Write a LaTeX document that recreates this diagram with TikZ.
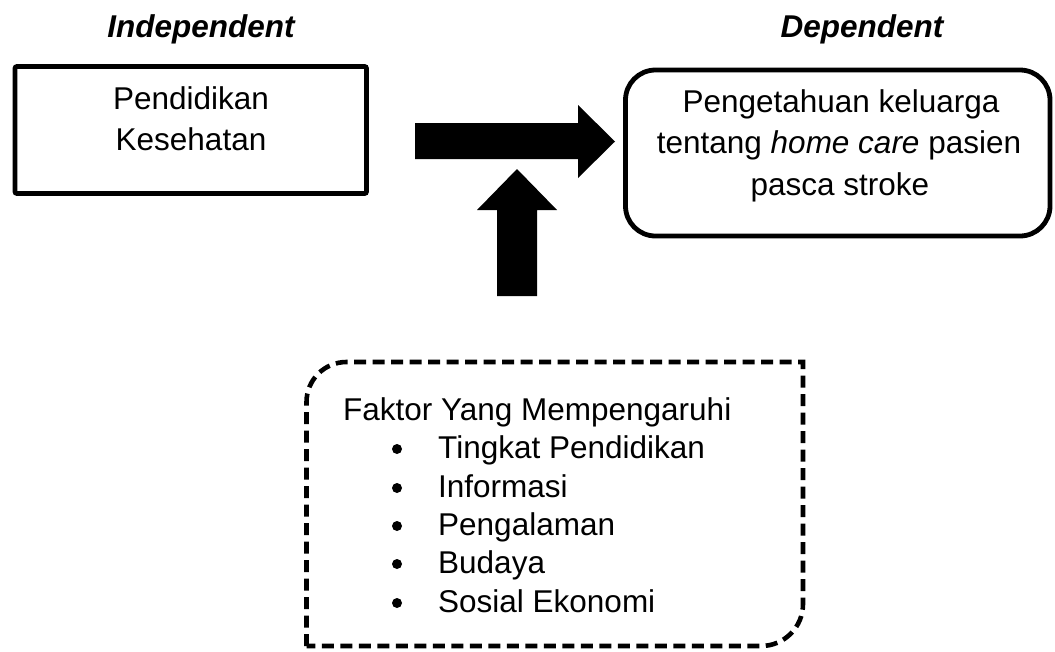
\documentclass[tikz,border=0pt]{standalone}
\usepackage{fontspec}
\setmainfont{Liberation Sans}
\begin{document}
\begin{tikzpicture}[x=1pt,y=-1pt,
  txt/.style={inner sep=0pt,anchor=base,font=\fontsize{31.5}{41}\selectfont},
  ltxt/.style={txt,anchor=base west},
  head/.style={txt,font=\fontsize{31.5}{41}\selectfont\bfseries\itshape},
  solidbox/.style={draw,line width=4.8pt,rounded corners=2pt},
  roundbox/.style={draw,line width=4.8pt,rounded corners=30pt},
  dashbox/.style={draw,line width=4.6pt,dash pattern=on 12pt off 6.5pt},
  bulletdot/.style={circle,fill,inner sep=0pt,minimum size=10pt},
  blockarrow/.style={fill=black}]
\useasboundingbox (0,0) rectangle (1055,651);
% headings
\node[head] (hind) at (201,37) {Independent};
\node[head] (hdep) at (862,37) {Dependent};
% left box
\draw[solidbox] (15,66.5) rectangle (366.5,193.5);
\node[txt] (ind1) at (191,109) {Pendidikan};
\node[txt] (ind2) at (191,150) {Kesehatan};
% right box
\draw[roundbox] (625.5,70) rectangle (1050,236);
\node[txt] (dep1) at (841,112) {Pengetahuan keluarga};
\node[txt] (dep2) at (839,153.5) {tentang \textit{home care} pasien};
\node[txt] (dep3) at (840,195) {pasca stroke};
% right block arrow
\fill[blockarrow] (415,123) -- (578,123) -- (578,105) -- (615,141.5) -- (578,178) -- (578,159) -- (415,159) -- cycle;
% up block arrow
\fill[blockarrow] (497,296) -- (497,210) -- (477,210) -- (517,169) -- (557,210) -- (537,210) -- (537,296) -- cycle;
% dashed box: rounded top-left and bottom-right corners
\draw[dashbox] (306.5,646) -- (306.5,402) arc[start angle=180,end angle=90,radius=40pt] -- (803,362) -- (803,604) arc[start angle=0,end angle=-90,radius=42pt] -- cycle;
\node[ltxt] (fak) at (343,420) {Faktor Yang Mempengaruhi};
\foreach \y/\t [count=\i] in {458/Tingkat Pendidikan,497/Informasi,535/Pengalaman,573/Budaya,612/Sosial Ekonomi}{
  \node[bulletdot] (b\i) at (397,\y-9) {};
  \node[ltxt] (it\i) at (438,\y) {\t};
}
\end{tikzpicture}
\end{document}
